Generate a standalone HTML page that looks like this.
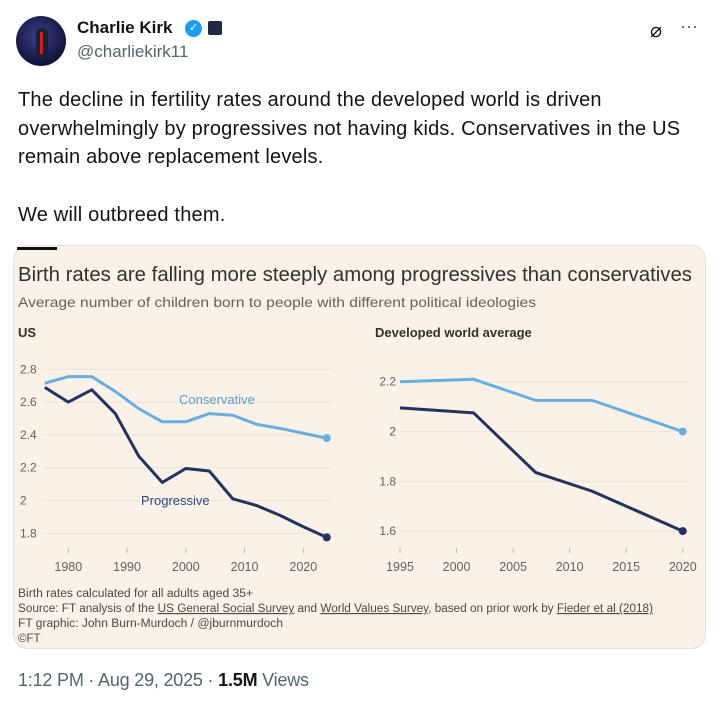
<!DOCTYPE html>
<html><head><meta charset="utf-8"><style>
body{margin:0;width:720px;height:705px;background:#fff;font-family:"Liberation Sans",sans-serif;position:relative;overflow:hidden}
.a{position:absolute;white-space:nowrap}
</style></head><body>
<div class="a" style="left:16px;top:16px;width:50px;height:50px;border-radius:50%;background:radial-gradient(circle at 45% 40%,#3b3f8a,#12143a 70%)"><div style="position:absolute;left:20px;top:12px;width:12px;height:30px;background:#1d1f3a;border-radius:5px 5px 0 0"></div><div style="position:absolute;left:24px;top:16px;width:3px;height:22px;background:#c22"></div></div>
<div class="a" style="left:77px;top:18px;font-weight:bold;font-size:17px;color:#0f1419">Charlie Kirk</div>
<div class="a" style="left:185px;top:20px;width:17px;height:17px;border-radius:50%;background:#1d9bf0;color:#fff;font-size:11px;text-align:center;line-height:17px">✓</div>
<div class="a" style="left:208px;top:21px;width:14px;height:14px;background:#1e2a44;border-radius:2px"></div>
<div class="a" style="left:77px;top:42px;font-size:17px;color:#536471">@charliekirk11</div>
<div class="a" style="left:650px;top:18px;font-size:20px;color:#0f1419">⌀</div>
<div class="a" style="left:680px;top:16px;font-size:18px;color:#536471">···</div>
<div class="a" style="left:18px;top:86px;font-size:20px;line-height:28.7px;color:#0f1419;letter-spacing:0.2px">The decline in fertility rates around the developed world is driven<br>overwhelmingly by progressives not having kids. Conservatives in the US<br>remain above replacement levels.<br><br>We will outbreed them.</div>

<svg class="a" style="left:0;top:0" width="720" height="705">
<rect x="13.5" y="245.5" width="692" height="403" rx="14" fill="#faf2e9" stroke="#e6e0d8"/>
<rect x="17" y="247" width="40" height="3" fill="#111"/>
<text x="18" y="281" font-size="20" fill="#33302e" textLength="674" lengthAdjust="spacingAndGlyphs">Birth rates are falling more steeply among progressives than conservatives</text>
<text x="18" y="307" font-size="14" fill="#66605c" textLength="518" lengthAdjust="spacingAndGlyphs">Average number of children born to people with different political ideologies</text>
<text x="18" y="337" font-size="13" font-weight="bold" fill="#33302e">US</text>
<text x="375" y="337" font-size="13" font-weight="bold" fill="#33302e">Developed world average</text>
<g id="us"></g><g id="world"></g>
<g font-size="11.5" fill="#4d4845">
<text x="18" y="597" textLength="235" lengthAdjust="spacingAndGlyphs">Birth rates calculated for all adults aged 35+</text>
<text x="18" y="612" textLength="635" lengthAdjust="spacingAndGlyphs">Source: FT analysis of the <tspan text-decoration="underline">US General Social Survey</tspan> and <tspan text-decoration="underline">World Values Survey</tspan>, based on prior work by <tspan text-decoration="underline">Fieder et al (2018)</tspan></text>
<text x="18" y="627" textLength="265" lengthAdjust="spacingAndGlyphs">FT graphic: John Burn-Murdoch / @jburnmurdoch</text>
<text x="18" y="642">©FT</text>
</g>
</svg>
<div class="a" style="left:18px;top:670px;font-size:18px;color:#536471;letter-spacing:-0.2px">1:12 PM · Aug 29, 2025 · <b style="color:#0f1419">1.5M</b> Views</div>

<script>
const usYears=[1976,1980,1984,1988,1992,1996,2000,2004,2008,2012,2016,2020,2024];
const usConservative=[2.715,2.755,2.755,2.665,2.56,2.48,2.48,2.53,2.52,2.465,2.44,2.41,2.38];
const usProgressive=[2.69,2.6,2.675,2.53,2.27,2.11,2.195,2.18,2.01,1.97,1.91,1.84,1.775];
const usYTicks=[1.8,2,2.2,2.4,2.6,2.8];
const usXTicks=[1980,1990,2000,2010,2020];
const worldYears=[1995,2001.5,2007,2012,2020];
const worldConservative=[2.2,2.21,2.125,2.125,2.0];
const worldProgressive=[2.095,2.075,1.835,1.76,1.6];
const worldYTicks=[1.6,1.8,2,2.2];
const worldXTicks=[1995,2000,2005,2010,2015,2020];
const NS='http://www.w3.org/2000/svg';
function mk(p,t,a){const e=document.createElementNS(NS,t);for(const k in a)e.setAttribute(k,a[k]);p.appendChild(e);return e;}
function panel(g,cfg){
 const xs=v=>cfg.x0+(v-cfg.xa)*cfg.xk, ys=v=>cfg.y0-(v-cfg.ya)*cfg.yk;
 cfg.yt.forEach(t=>{
  const l=mk(g,'line',{x1:cfg.gx1,x2:cfg.gx2,y1:ys(t),y2:ys(t),stroke:'#ebe3d9','stroke-width':1});
  
  
  const tx=mk(g,'text',{x:cfg.lx,y:ys(t)+4,'font-size':12,fill:'#66605c','text-anchor':cfg.anchor});
  tx.textContent=String(t);
  
  
 });
 cfg.xt.forEach(t=>{
  const l=mk(g,'line',{x1:xs(t),x2:xs(t),y1:548,y2:553,stroke:'#bbb3aa'});
  
  
  const tx=mk(g,'text',{x:xs(t),y:571,'font-size':12.5,fill:'#66605c','text-anchor':'middle'});
  tx.textContent=String(t);
  
  
 });
 [[cfg.cons,'#6aaee0','conservative'],[cfg.prog,'#22335e','progressive']].forEach(([vals,c,n])=>{
  const pts=vals.map((v,i)=>xs(cfg.years[i])+','+ys(v)).join(' ');
  const pl=mk(g,'polyline',{points:pts,fill:'none',stroke:c,'stroke-width':3,'stroke-linejoin':'round'});
  
  
  const last=vals.length-1;
  const d=mk(g,'circle',{cx:xs(cfg.years[last]),cy:ys(vals[last]),r:4,fill:c});
  
  
 });
 return {xs,ys};
}
const us=panel(document.getElementById('us'),{years:usYears,cons:usConservative,prog:usProgressive,yt:usYTicks,xt:usXTicks,xa:1980,x0:68.3,xk:5.875,ya:2.8,y0:369.3,yk:164,gx1:43,gx2:332,lx:20,anchor:'start'});
const wd=panel(document.getElementById('world'),{years:worldYears,cons:worldConservative,prog:worldProgressive,yt:worldYTicks,xt:worldXTicks,xa:1995,x0:400,xk:11.31,ya:2.2,y0:381.7,yk:249,gx1:400,gx2:688,lx:396,anchor:'end'});
const ug=document.getElementById('us');
const c1=mk(ug,'text',{x:179,y:404,'font-size':13,fill:'#5a9cc8'});c1.textContent='Conservative';


const c2=mk(ug,'text',{x:141,y:505,'font-size':13,fill:'#2d4a7a'});c2.textContent='Progressive';


</script>
</body></html>
